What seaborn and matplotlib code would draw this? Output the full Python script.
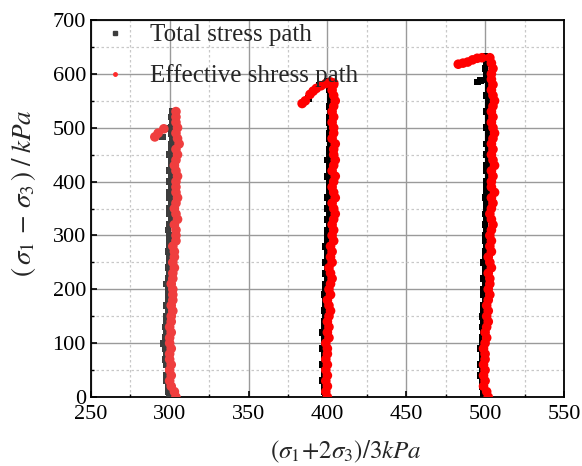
import matplotlib
matplotlib.use("Agg")
import matplotlib.pyplot as plt
import seaborn as sns
import pandas as pd
from matplotlib.ticker import MultipleLocator
from matplotlib.lines import Line2D

# ---------------- data ----------------
Y_LEVELS = [0, 10, 20, 30, 40, 50, 60, 70, 80, 90,
            100, 110, 120, 130, 140, 150, 160, 170, 180, 190,
            200, 210, 220, 230, 240, 250, 260, 270, 280, 290,
            300, 310, 320, 330, 340, 350, 360, 370, 380, 390,
            400, 410, 420, 430, 440, 450, 460, 470, 480, 490,
            500, 510, 520, 530, 540, 550, 560, 570, 580, 590,
            600, 610, 620, 630]

# column near p = 300 kPa (y 0..530)
total_300_x = [300, 299, 299, 298, 298, 299, 298, 297, 298, 297,
               296, 297, 298, 297, 298, 298, 299, 298, 299, 299,
               299, 298, 299, 300, 299, 300, 300, 299, 300, 300,
               300, 299, 300, 301, 300, 300, 301, 300, 300, 301,
               300, 301, 300, 301, 301, 300, 301, 301, 302, 301,
               301, 302, 301, 302]
eff_300_x = [304, 303, 301, 300, 301, 300, 301, 300, 300, 301,
             300, 300, 301, 300, 301, 301, 302, 301, 302, 302,
             302, 301, 302, 302, 303, 302, 303, 303, 302, 304,
             304, 304, 303, 305, 304, 303, 304, 305, 304, 304,
             304, 305, 304, 303, 304, 305, 304, 306, 305, 304,
             305, 304, 304, 304]
total_300_hook_x = [295.5, 299.7]
total_300_hook_y = [483, 498]
eff_300_hook_x = [290.6, 292.7, 296.3]
eff_300_hook_y = [483, 490, 498]

# column near p = 400 kPa (y 0..580)
total_400_x = [399, 398, 398, 397, 398, 398, 397, 398, 398, 397,
               398, 398, 397, 398, 398, 399, 398, 399, 399, 398,
               399, 399, 400, 399, 400, 399, 400, 400, 399, 400,
               400, 400, 401, 400, 401, 400, 401, 400, 401, 401,
               401, 400, 401, 401, 400, 401, 401, 402, 401, 401,
               402, 401, 401, 402, 401, 402, 402, 401, 402]
eff_400_x = [400, 399, 400, 399, 400, 399, 400, 399, 400, 400,
             399, 401, 400, 401, 400, 401, 402, 401, 400, 402,
             401, 402, 403, 402, 401, 403, 402, 403, 402, 404,
             403, 404, 403, 404, 405, 404, 403, 405, 404, 403,
             404, 405, 403, 404, 405, 404, 404, 405, 403, 404,
             404, 403, 404, 403, 404, 405, 404, 403, 404]
total_400_hook_x = [388, 392, 395, 400]
total_400_hook_y = [555, 570, 578, 586]
eff_400_hook_x = [384, 386, 389, 391, 393, 396, 399, 402, 404]
eff_400_hook_y = [545, 550, 562, 568, 573, 578, 582, 585, 583]

# column near p = 500 kPa (y 0..630)
total_500_x = [499, 499, 498, 498, 497, 498, 497, 498, 498, 497,
               498, 498, 499, 498, 499, 498, 499, 499, 500, 499,
               499, 500, 499, 500, 500, 499, 500, 500, 501, 500,
               500, 501, 500, 501, 500, 501, 501, 500, 501, 501,
               501, 502, 501, 501, 502, 501, 502, 501, 502, 502,
               501, 502, 502, 501, 502, 502, 501, 502, 502, 501,
               501, 500, 501, 501]
eff_500_x = [502, 501, 499, 500, 499, 500, 499, 500, 500, 499,
             500, 501, 500, 501, 502, 501, 502, 501, 502, 503,
             502, 503, 503, 502, 504, 503, 502, 504, 503, 504,
             503, 504, 505, 504, 503, 504, 505, 504, 506, 504,
             504, 505, 504, 506, 505, 504, 505, 504, 505, 506,
             505, 504, 505, 504, 505, 506, 505, 504, 505, 504,
             504, 505, 504, 503]
total_500_hook_x = [495, 497, 500, 502]
total_500_hook_y = [585, 587, 632, 628]
eff_500_hook_x = [483, 486, 489, 492, 495, 498]
eff_500_hook_y = [618, 620, 622, 626, 629, 630]

LEGEND_LABELS = ["Total stress path", "Effective shress path"]


def frame(xs, hx, hy):
    n = len(xs)
    return pd.DataFrame({"p": list(xs) + list(hx),
                         "q": list(Y_LEVELS[:n]) + list(hy)})


columns = [
    (frame(total_300_x, total_300_hook_x, total_300_hook_y),
     frame(eff_300_x, eff_300_hook_x, eff_300_hook_y),
     "#3d3d3d", "#ef3e3e"),
    (frame(total_400_x, total_400_hook_x, total_400_hook_y),
     frame(eff_400_x, eff_400_hook_x, eff_400_hook_y),
     "#000000", "#ff0000"),
    (frame(total_500_x, total_500_hook_x, total_500_hook_y),
     frame(eff_500_x, eff_500_hook_x, eff_500_hook_y),
     "#000000", "#ff0000"),
]

# ---------------- style ----------------
sns.set_theme(style="white")
plt.rcParams["font.family"] = ["Liberation Serif", "DejaVu Serif"]
plt.rcParams["mathtext.fontset"] = "stix"

fig = plt.figure(figsize=(5.82, 4.66), dpi=100)
ax = fig.add_axes([0.156, 0.148, 0.813, 0.809])

for tot, eff, cb, cr in columns:
    sns.scatterplot(data=tot, x="p", y="q", ax=ax, marker="s", s=24,
                    color=cb, edgecolor="none", linewidth=0, zorder=3)
    sns.scatterplot(data=eff, x="p", y="q", ax=ax, marker="o", s=48,
                    color=cr, edgecolor="none", linewidth=0, zorder=4)

ax.set_xlim(250, 550)
ax.set_ylim(0, 700)
ax.xaxis.set_major_locator(MultipleLocator(50))
ax.xaxis.set_minor_locator(MultipleLocator(25))
ax.yaxis.set_major_locator(MultipleLocator(100))
ax.yaxis.set_minor_locator(MultipleLocator(50))

ax.grid(True, which="major", color="#9a9a9a", linewidth=1.0, linestyle="-", zorder=0)
ax.grid(True, which="minor", color="#c8c8c8", linewidth=0.9, linestyle=(0, (2, 2)), zorder=0)
ax.set_axisbelow(True)

ax.tick_params(which="both", direction="in", bottom=True, left=True,
               top=False, right=False, labelsize=16, colors="black")
ax.tick_params(axis="x", which="major", pad=6)
ax.tick_params(which="major", length=4, width=1.2)
ax.tick_params(which="minor", length=2.5, width=1.0)
for sp in ax.spines.values():
    sp.set_color("black")
    sp.set_linewidth(1.3)

ax.set_xlabel(r"$(\sigma_{\mathit{1}}\!+\!2\sigma_{\mathit{3}})/3kPa$", fontsize=18)
ax.set_ylabel(r"$(\,\sigma_{\mathit{1}}\,-\,\sigma_{\mathit{3}}\,)\;/\;kPa$", fontsize=19.5)
ax.xaxis.set_label_coords(0.539, -0.11)
ax.yaxis.set_label_coords(-0.112, 0.541)

handles = [
    Line2D([], [], marker="s", linestyle="none", color="#3d3d3d", markersize=2.5),
    Line2D([], [], marker="o", linestyle="none", color="#ff2a2a", markersize=2.5),
]
ax.legend(handles, LEGEND_LABELS, loc="upper left", bbox_to_anchor=(0.024, 0.99),
          frameon=False, fontsize=18, handletextpad=0.9, borderaxespad=0.0,
          borderpad=0.0, labelspacing=0.72, handlelength=1.0)

fig.savefig("out.png", dpi=100)
